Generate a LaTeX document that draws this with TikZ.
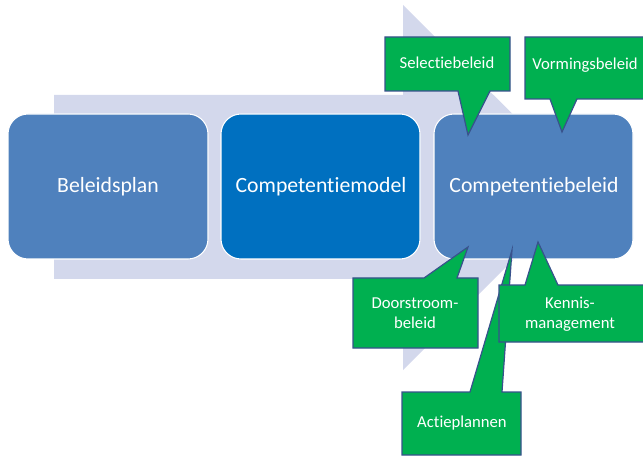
\documentclass[tikz,border=0pt]{standalone}
\usepackage{fontspec}
\setmainfont[Ligatures=NoCommon]{Carlito}
\usepackage{tikz}

\definecolor{procblue}{RGB}{79,129,189}
\definecolor{modelblue}{RGB}{0,112,192}
\definecolor{bandlilac}{RGB}{211,216,236}
\definecolor{notegreen}{RGB}{0,176,80}
\definecolor{noteedge}{RGB}{56,82,140}

\begin{document}
\begin{tikzpicture}[x=0.75pt,y=-0.75pt,
  stage/.style={draw=white,line width=0.8pt,rounded corners=15pt},
  stagetext/.style={text=white,font=\fontsize{16.3}{19}\selectfont},
  note/.style={fill=notegreen,draw=noteedge,line width=0.9pt,line join=miter},
  notetext/.style={text=white,align=center,font=\fontsize{12.5}{15}\selectfont}]
  \useasboundingbox (0,0) rectangle (643,456);
  \clip (0,0) rectangle (643,456);

  % process arrow behind the stages
  \fill[bandlilac] (54,95) -- (403,95) -- (403,5) -- (586,187) -- (403,370)
    -- (403,279) -- (54,279) -- cycle;

  % stages
  \draw[stage,fill=procblue] (8,114) rectangle (208,259);
  \draw[stage,fill=modelblue] (221,114) rectangle (420,259);
  \draw[stage,fill=procblue] (434,114) rectangle (633,259);

  \node[stagetext] (plan) at (108,187) {Beleidsplan};
  \node[stagetext] (model) at (321,187) {Competentiemodel};
  \node[stagetext] (beleid) at (534,187) {Competentiebeleid};

  % callouts above
  \draw[note] (385,37) -- (510,37) -- (510,91) -- (490,91) -- (468,135)
    -- (458,91) -- (385,91) -- cycle;
  \node[notetext] (selectie) at (447,63) {Selectiebeleid};

  \draw[note] (525,37) -- (650,37) -- (650,99) -- (577,99) -- (562,132)
    -- (550,99) -- (525,99) -- cycle;
  \node[notetext] (vorming) at (585,65) {Vormingsbeleid};

  % callouts below
  \draw[note] (353,278) -- (424,278) -- (468,247) -- (457,278) -- (478,278)
    -- (478,348) -- (353,348) -- cycle;
  \node[notetext] (doorstroom) at (415,313) {Doorstroom-\\beleid};

  \draw[note] (402,392) -- (470,392) -- (512,250) -- (502,392) -- (521,392)
    -- (521,455) -- (402,455) -- cycle;
  \node[notetext] (actie) at (462,423) {Actieplannen};

  \draw[note] (499,285) -- (525,285) -- (538,242) -- (558,285) -- (650,285)
    -- (650,342) -- (499,342) -- cycle;
  \node[notetext] (kennis) at (570,314) {Kennis-\\management};

\end{tikzpicture}
\end{document}
